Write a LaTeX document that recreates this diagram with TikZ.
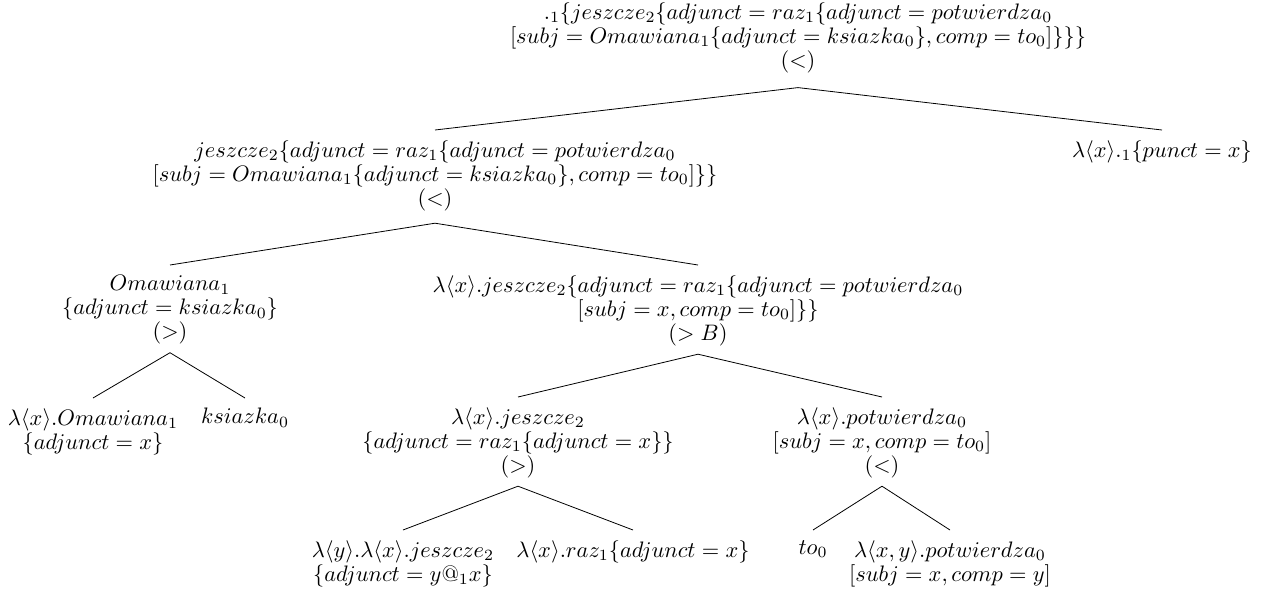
\RequirePackage{fix-cm}
\documentclass[tikz,border=0pt]{standalone}
\begin{document}
\begin{tikzpicture}[x=1pt,y=1pt,
  tn/.style={align=center, inner xsep=0pt, inner ysep=5pt, anchor=north,
    font=\fontsize{11.2}{12}\selectfont},
  edge/.style={line width=0.4pt}]
\useasboundingbox (0,0) rectangle (638,-295);
% root of the derivation
\node[tn, anchor=center] (root) at (399,-19)
  {$._1\{jeszcze_2\{adjunct = raz_1\{adjunct = potwierdza_0$\\
   $[subj = Omawiana_1\{adjunct = ksiazka_0\}, comp = to_0]\}\}\}$\\
   $(<)$};
% level 1
\node[tn] (l1) at (217.5,-65)
  {$jeszcze_2\{adjunct = raz_1\{adjunct = potwierdza_0$\\
   $[subj = Omawiana_1\{adjunct = ksiazka_0\}, comp = to_0]\}\}$\\
   $(<)$};
\node[tn] (r1) at (581,-65) {$\lambda\langle x\rangle._1\{punct = x\}$};
% level 2
\node[tn] (om) at (85,-132.5)
  {$Omawiana_1$\\ $\{adjunct = ksiazka_0\}$\\ $(>)$};
\node[tn] (lj) at (349,-132.5)
  {$\lambda\langle x\rangle.jeszcze_2\{adjunct = raz_1\{adjunct = potwierdza_0$\\
   $[subj = x, comp = to_0]\}\}$\\ $(> B)$};
% level 3
\node[tn] (oml) at (46.5,-199) {$\lambda\langle x\rangle.Omawiana_1$\\ $\{adjunct = x\}$};
\node[tn] (ks) at (122.5,-199) {$ksiazka_0$};
\node[tn] (j2) at (259,-198.5)
  {$\lambda\langle x\rangle.jeszcze_2$\\ $\{adjunct = raz_1\{adjunct = x\}\}$\\ $(>)$};
\node[tn] (p0) at (441,-198.5)
  {$\lambda\langle x\rangle.potwierdza_0$\\ $[subj = x, comp = to_0]$\\ $(<)$};
% level 4
\node[tn] (jy) at (201.5,-265)
  {$\lambda\langle y\rangle.\lambda\langle x\rangle.jeszcze_2$\\ $\{adjunct = y@_1x\}$};
\node[tn] (rz) at (316.5,-265) {$\lambda\langle x\rangle.raz_1\{adjunct = x\}$};
\node[tn] (to) at (406.5,-265) {$to_0$};
\node[tn] (pxy) at (475,-265)
  {$\lambda\langle x, y\rangle.potwierdza_0$\\ $[subj = x, comp = y]$};
% branching points below the mother nodes
\coordinate (root-b) at ([yshift=-2pt]root.south);
\coordinate (l1-b) at ([yshift=-1pt]l1.south);
\foreach \n in {om,lj,j2,p0}
  \coordinate (\n-b) at ([yshift=1pt]\n.south);
% tree edges
\draw[edge] (root-b) -- (l1.north);
\draw[edge] (root-b) -- (r1.north);
\draw[edge] (l1-b) -- (om.north);
\draw[edge] (l1-b) -- (lj.north);
\draw[edge] (om-b) -- (oml.north);
\draw[edge] (om-b) -- (ks.north);
\draw[edge] (lj-b) -- (j2.north);
\draw[edge] (lj-b) -- (p0.north);
\draw[edge] (j2-b) -- (jy.north);
\draw[edge] (j2-b) -- (rz.north);
\draw[edge] (p0-b) -- (to.north);
\draw[edge] (p0-b) -- (pxy.north);
\end{tikzpicture}
\end{document}
